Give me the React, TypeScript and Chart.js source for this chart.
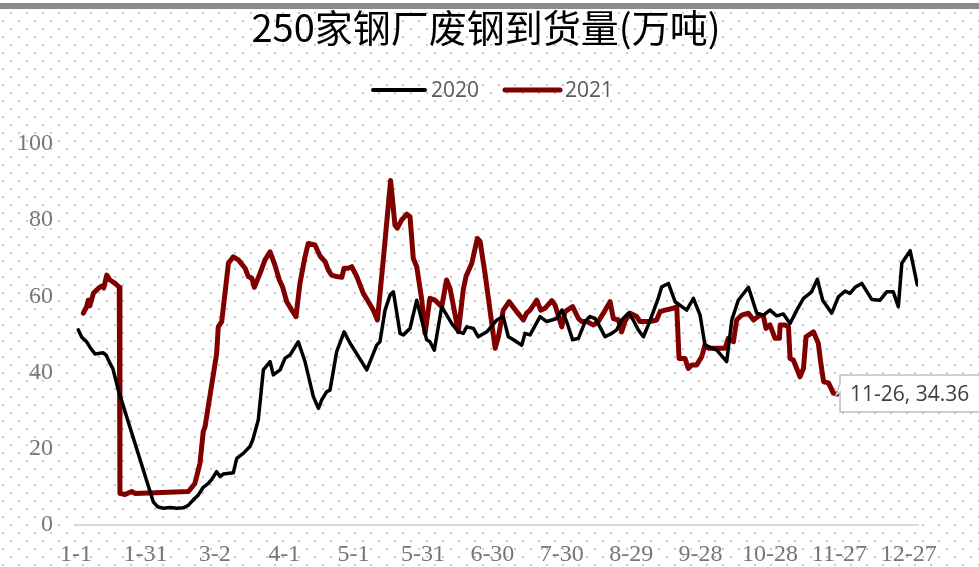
import React, { useEffect, useRef } from 'react';
import { Chart, registerables } from 'chart.js';

Chart.register(...registerables);

const titleText = '250家钢厂废钢到货量(万吨)';
const seriesNames = ['2020', '2021'];
const seriesColors = ['#000000', '#800000'];
const xTickLabels = ['1-1', '1-31', '3-2', '4-1', '5-1', '5-31', '6-30', '7-30', '8-29', '9-28', '10-28', '11-27', '12-27'];
const xTickDays = [0, 30, 60, 90, 120, 150, 180, 210, 240, 270, 300, 330, 360];
const yTicks = [0, 20, 40, 60, 80, 100];
const calloutText = '11-26, 34.36';

// day-of-year (0 = Jan 1) and value, 2020
const days2020 = [1, 2.5, 4.6, 6.3, 8.2, 11.8, 13, 14.7, 15.9, 18.3, 33.4, 35.2, 37.8, 40.6, 43.5, 46.4, 48.6, 50.7, 52.9, 55, 57.2, 58.7, 60.8, 62.3, 63.7, 68, 69.5, 72.3, 75.2, 76.5, 78.8, 81, 83.9, 85.3, 88.2, 90.4, 92.5, 96.1, 99, 102.6, 104.8, 106.2, 108.4, 109.8, 112.7, 115.9, 118.5, 125.7, 130, 131.4, 133.6, 135.8, 137.2, 140.1, 141.5, 144.4, 147.3, 151.6, 153, 154.9, 158.1, 162.4, 165.3, 167.4, 168.9, 171.8, 173.9, 177.6, 181.9, 184.7, 186.9, 189.1, 192.7, 194.1, 196.3, 200.6, 203.5, 207.8, 210, 212.1, 214.7, 217.2, 220.1, 222.2, 224.4, 226.5, 228.7, 231.6, 233.7, 235.9, 238.8, 240.9, 243.1, 245.3, 247.4, 249.6, 251.7, 253.2, 256.1, 259, 261.9, 264, 266.9, 269.8, 271.9, 277, 281.3, 283.5, 286.3, 290.7, 294.3, 297.2, 300, 302.9, 305.8, 308.7, 311.6, 314.5, 318, 320.5, 322.8, 326.7, 329.6, 332.5, 334.6, 336.8, 339.7, 344, 347.6, 350.5, 353.3, 355.5, 357, 360.6, 363.7];
const values2020 = [51.2, 49.3, 48.1, 46.4, 44.9, 45.2, 44.6, 42.4, 41.1, 35.4, 6.1, 4.8, 4.4, 4.6, 4.4, 4.5, 5.2, 6.6, 7.9, 9.9, 10.9, 12, 14, 12.7, 13.4, 13.7, 17.5, 18.8, 20.6, 22.5, 27.6, 40.7, 42.9, 39.4, 40.7, 43.8, 44.6, 48.1, 42.9, 33.7, 30.6, 32.8, 35, 35.4, 45.5, 50.7, 47.7, 40.7, 47.2, 48.1, 56.4, 60.4, 61.2, 50.3, 49.9, 51.6, 59, 48.6, 48.1, 45.9, 57.3, 52.9, 50.7, 50.3, 52, 51.6, 49.4, 50.7, 53.8, 54.7, 49.4, 48.6, 47.2, 50.3, 49.9, 54.7, 53.4, 54.2, 56.4, 53.4, 48.6, 49, 53.4, 54.7, 54.2, 52, 49.4, 50.3, 51.2, 53.8, 55.6, 53.8, 51.2, 49.4, 52.5, 56, 59.5, 62.5, 63.4, 58.6, 57.3, 56.4, 59.5, 55.1, 47.2, 45.9, 42.9, 53.8, 59, 62.4, 55.6, 55.1, 56.4, 54.9, 55.4, 52.9, 56.4, 59.5, 61.2, 64.5, 59, 55.6, 59.9, 61.4, 60.8, 62.4, 63.4, 59.2, 59, 61.2, 61.2, 57.3, 68.7, 72, 63];

// day-of-year (0 = Jan 1) and value, 2021
const days2021 = [3.2, 4.6, 5.3, 6, 7.5, 9.6, 11.1, 12, 13.3, 14.7, 16.9, 18.7, 19, 21.2, 24.1, 25.5, 48.6, 51.4, 53.6, 55, 55.8, 60.8, 61.5, 63, 65.9, 68, 70.2, 73.1, 74.5, 76, 77.1, 79.6, 81.7, 83.9, 86, 87.9, 89.3, 91.1, 93.3, 95.1, 96.8, 99, 100.4, 103.3, 105.5, 107.7, 109.1, 110.5, 112.7, 114.9, 115.9, 117.7, 119.2, 121.4, 124.2, 126.4, 128.5, 130.3, 132.9, 136, 137.9, 138.9, 140.8, 143, 144.4, 145.8, 147.3, 149.5, 150.9, 153, 155.2, 158.1, 160.2, 161.7, 165.3, 167.4, 168.6, 171.1, 173.5, 174.7, 176.8, 181.2, 182.6, 184.7, 187.3, 190.5, 193.4, 194.8, 196.3, 199.2, 200.9, 202.8, 205.7, 207.1, 210, 211.4, 214.7, 217.2, 218.6, 220.8, 223.7, 225.8, 228, 230.9, 232.3, 234.5, 235.9, 237.3, 239.5, 242.4, 243.8, 248.2, 251, 252.5, 254.7, 258.2, 259.7, 260.7, 263.3, 264.7, 266.2, 268.3, 270.5, 271.9, 273.4, 280.6, 282, 284.2, 285.6, 287.8, 290.7, 292.9, 295.7, 297.2, 298.3, 300, 302.2, 304.1, 304.4, 306.5, 308, 308.7, 310.1, 313, 314.5, 315.6, 318.8, 320.9, 322, 323.2, 325.3, 327.4, 329];
const values2021 = [55.6, 57.3, 59, 57.5, 60.8, 62.1, 62.7, 62.2, 65.6, 64.3, 63.4, 62.4, 8.3, 8, 8.8, 8.3, 8.8, 10.9, 16.2, 24.5, 25.8, 45, 52, 53.4, 68.7, 70.4, 69.6, 67.4, 65.2, 64.8, 62.4, 66.1, 69.6, 71.7, 68.2, 64.3, 62.5, 58.6, 56.4, 54.7, 63.4, 70.4, 73.9, 73.5, 70.6, 69.1, 66.9, 65.6, 65.2, 65, 67.4, 67.4, 67.8, 65.2, 60.8, 58.6, 56.4, 53.8, 70, 90.4, 78.7, 77.9, 80.1, 81.6, 80.9, 70, 67.8, 59, 50.3, 59.5, 59, 57.3, 64.3, 62.1, 50.7, 61.7, 65.2, 68.7, 75.2, 74.4, 66.1, 46.4, 49.4, 56.4, 58.6, 56, 53.8, 55.6, 56.4, 59, 56.4, 56.9, 58.9, 57.7, 52, 56, 57.3, 54.2, 53.4, 53.4, 52.5, 53.4, 55.6, 58.6, 54.2, 53.8, 50.7, 53.4, 55.6, 54.7, 53.4, 53.4, 53.8, 56, 56.4, 56.9, 57.3, 43.7, 43.7, 41.1, 42, 42, 44.2, 47.2, 46.4, 46.4, 49, 48.1, 53.8, 55.1, 55.6, 53.8, 55.1, 54.7, 51.6, 52.5, 49, 49, 52.5, 52.5, 52, 43.7, 43.3, 38.9, 41.1, 49.4, 50.7, 47.7, 42.4, 37.6, 37.3, 34.6, 34.36];

const W = 979;
const H = 567;

const backgroundPlugin = {
  id: 'bgDots',
  beforeDraw(chart: any) {
    const ctx = chart.ctx;
    ctx.save();
    ctx.fillStyle = '#ffffff';
    ctx.fillRect(0, 0, W, H);
    ctx.fillStyle = '#c9c9c9';
    let row = 0;
    for (let y = 4; y < H; y += 8) {
      const off = row % 2 === 0 ? 2 : 10;
      for (let x = off; x < W; x += 16) {
        ctx.fillRect(x, y, 2, 2);
      }
      row++;
    }
    ctx.fillStyle = '#8a8a8a';
    ctx.fillRect(0, 3, W, 6);
    ctx.restore();
  },
};

const overlayPlugin = {
  id: 'overlay',
  afterDraw(chart: any) {
    const ctx = chart.ctx;
    ctx.save();
    // title
    ctx.fillStyle = '#000000';
    ctx.font = '38px "Noto Sans CJK SC"';
    ctx.textAlign = 'center';
    ctx.textBaseline = 'middle';
    ctx.fillText(titleText, 486, 28);

    // legend
    const legendItems = [
      { x0: 373, x1: 425, tx: 431, w: 4 },
      { x0: 505, x1: 560, tx: 565, w: 5 },
    ];
    ctx.font = '21px "Open Sans"';
    ctx.textAlign = 'left';
    legendItems.forEach((it, i) => {
      ctx.strokeStyle = seriesColors[i];
      ctx.lineWidth = it.w;
      ctx.lineCap = 'round';
      ctx.beginPath();
      ctx.moveTo(it.x0, 90);
      ctx.lineTo(it.x1, 90);
      ctx.stroke();
      ctx.fillStyle = '#595959';
      ctx.fillText(seriesNames[i], it.tx, 91);
    });

    // callout for last 2021 point
    const xs = chart.scales.x;
    const ys = chart.scales.y;
    const lastDay = days2021[days2021.length - 1];
    const lastVal = values2021[values2021.length - 1];
    const px = xs.getPixelForValue(lastDay);
    const py = ys.getPixelForValue(lastVal);
    const bx = px + 3;
    const by = py - 19;
    const bh = 37;
    ctx.fillStyle = '#ffffff';
    ctx.strokeStyle = '#bfbfbf';
    ctx.lineWidth = 1.5;
    ctx.lineCap = 'butt';
    ctx.beginPath();
    ctx.moveTo(bx, by);
    ctx.lineTo(W + 5, by);
    ctx.lineTo(W + 5, by + bh);
    ctx.lineTo(bx, by + bh);
    ctx.lineTo(bx, by + 17);
    ctx.lineTo(px - 1, py + 1);
    ctx.lineTo(bx, by + 8);
    ctx.closePath();
    ctx.fill();
    ctx.stroke();
    ctx.fillStyle = '#404040';
    ctx.font = '21px "Open Sans"';
    ctx.textAlign = 'left';
    ctx.textBaseline = 'middle';
    ctx.fillText(calloutText, bx + 10, by + bh / 2 + 1);
    ctx.restore();
  },
};

export default function App() {
  const canvasRef = useRef<HTMLCanvasElement | null>(null);

  useEffect(() => {
    const canvas = canvasRef.current;
    if (!canvas) return;
    const data2020 = days2020.map((d, i) => ({ x: d, y: values2020[i] }));
    const data2021 = days2021.map((d, i) => ({ x: d, y: values2021[i] }));
    const chart = new Chart(canvas, {
      type: 'line',
      data: {
        datasets: [
          {
            label: seriesNames[0],
            data: data2020,
            borderColor: seriesColors[0],
            backgroundColor: seriesColors[0],
            borderWidth: 3.5,
            pointRadius: 0,
            tension: 0,
            borderJoinStyle: 'round',
            borderCapStyle: 'round',
          },
          {
            label: seriesNames[1],
            data: data2021,
            borderColor: seriesColors[1],
            backgroundColor: seriesColors[1],
            borderWidth: 5,
            pointRadius: 0,
            tension: 0,
            borderJoinStyle: 'round',
            borderCapStyle: 'round',
          },
        ],
      },
      options: {
        responsive: false,
        animation: false,
        devicePixelRatio: 1,
        layout: { padding: { left: 0, right: 61, top: 144, bottom: 0 } },
        plugins: {
          legend: { display: false },
          title: { display: false },
          tooltip: { enabled: false },
        },
        scales: {
          x: {
            type: 'linear',
            min: 0,
            max: 364,
            grid: { display: false, drawTicks: false },
            border: { display: true, color: '#d9d9d9', width: 2 },
            afterBuildTicks: (scale: any) => {
              scale.ticks = xTickDays.map((v) => ({ value: v }));
            },
            afterFit: (scale: any) => {
              scale.height = 42;
            },
            ticks: {
              autoSkip: false,
              maxRotation: 0,
              padding: 15,
              color: '#767676',
              font: { family: '"Liberation Serif"', size: 24 },
              callback: (value: any) => {
                const idx = xTickDays.indexOf(Number(value));
                return idx >= 0 ? xTickLabels[idx] : '';
              },
            },
          },
          y: {
            min: 0,
            max: 100,
            grid: { display: false, drawTicks: false },
            border: { display: false },
            afterBuildTicks: (scale: any) => {
              scale.ticks = yTicks.map((v) => ({ value: v }));
            },
            afterFit: (scale: any) => {
              scale.width = 76;
            },
            ticks: {
              padding: 23,
              color: '#767676',
              font: { family: '"Liberation Serif"', size: 24 },
            },
          },
        },
      },
      plugins: [backgroundPlugin, overlayPlugin],
    } as any);
    return () => chart.destroy();
  }, []);

  return (
    <div style={{ position: 'fixed', left: 0, top: 0, width: W, height: H, background: '#fff' }}>
      <canvas ref={canvasRef} width={W} height={H} style={{ width: W, height: H, display: 'block' }} />
    </div>
  );
}
